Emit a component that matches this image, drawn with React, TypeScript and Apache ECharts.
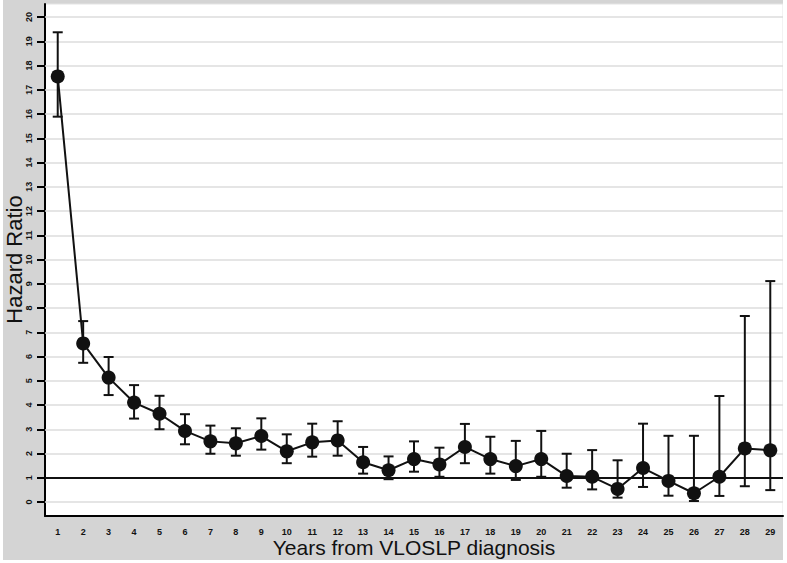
import React, { useEffect, useRef } from "react";
import * as echarts from "echarts";

const years = ["1","2","3","4","5","6","7","8","9","10","11","12","13","14","15","16","17","18","19","20","21","22","23","24","25","26","27","28","29"];
const hazard = [17.55,6.54,5.13,4.10,3.64,2.93,2.50,2.42,2.72,2.09,2.46,2.54,1.64,1.31,1.77,1.55,2.27,1.77,1.48,1.77,1.07,1.04,0.54,1.40,0.87,0.36,1.04,2.21,2.13];
const upper = [19.37,7.46,5.98,4.82,4.38,3.62,3.15,3.04,3.45,2.79,3.23,3.33,2.27,1.88,2.50,2.24,3.22,2.69,2.52,2.93,1.99,2.14,1.72,3.23,2.73,2.73,4.37,7.67,9.11];
const lower = [15.89,5.74,4.41,3.44,3.00,2.38,1.99,1.91,2.16,1.60,1.87,1.91,1.17,0.94,1.25,1.04,1.60,1.17,0.91,1.04,0.59,0.52,0.18,0.62,0.26,0.04,0.25,0.65,0.49];
const yMin = 0;
const yMax = 20;
const yStep = 1;
const referenceValue = 1;

export default function App() {
  const ref = useRef<HTMLDivElement>(null);
  useEffect(() => {
    if (!ref.current) return;
    const chart = echarts.init(ref.current, undefined, { renderer: "svg" });
    const font = "'Liberation Sans', Arial, Helvetica, sans-serif";
    const errData = years.map((_, i) => [i, lower[i], upper[i]]);
    chart.setOption({
      animation: false,
      backgroundColor: "#d4d4d4",
      textStyle: { fontFamily: font },
      graphic: [
        { type: "rect", silent: true, shape: { x: 0, y: 0, width: 3, height: 563 }, style: { fill: "#ffffff" } },
        { type: "rect", silent: true, shape: { x: 783, y: 0, width: 4, height: 563 }, style: { fill: "#ffffff" } },
        { type: "rect", silent: true, shape: { x: 0, y: 560, width: 787, height: 3 }, style: { fill: "#ffffff" } },
      ],
      grid: [
        {
          left: 45, right: 4, top: 17, bottom: 61,
          containLabel: false, outerBoundsMode: "none", show: false, z: 2,
        },
        {
          left: 45, right: 4, top: 4, bottom: 47,
          containLabel: false, outerBoundsMode: "none", z: 0,
          show: true, backgroundColor: "#ffffff", borderColor: "#e4e4e4", borderWidth: 1,
        },
      ],
      xAxis: [
        {
          gridIndex: 0,
          type: "category",
          data: years,
          boundaryGap: true,
          show: false,
        },
        {
          gridIndex: 1,
          type: "category",
          data: years,
          boundaryGap: true,
          name: "Years from VLOSLP diagnosis",
          nameLocation: "middle",
          nameGap: 21,
          nameMoveOverlap: false,
          nameTextStyle: { fontSize: 21, color: "#111", fontFamily: font },
          axisLine: { onZero: false, lineStyle: { color: "#000", width: 2 } },
          axisTick: { alignWithLabel: true, length: 7, lineStyle: { color: "#000", width: 2 } },
          axisLabel: { fontSize: 9, fontWeight: "bold", color: "#111", margin: 11, interval: 0 },
          splitLine: { show: false },
        },
      ],
      yAxis: [
        {
          gridIndex: 0,
          type: "value",
          min: yMin,
          max: yMax,
          interval: yStep,
          z: 2,
          name: "Hazard Ratio",
          nameLocation: "middle",
          nameGap: 20,
          nameMoveOverlap: false,
          nameTextStyle: { fontSize: 22, color: "#111", fontFamily: font },
          axisLine: { show: false },
          axisTick: { show: true, inside: false, length: 8, lineStyle: { color: "#000", width: 2 } },
          axisLabel: {
            rotate: 90, align: "center", verticalAlign: "bottom",
            fontSize: 9, fontWeight: "bold", color: "#111", margin: 12,
          },
          splitLine: { show: true, lineStyle: { color: "#dcdcdc", width: 1.5 } },
        },
        {
          gridIndex: 1,
          type: "value",
          min: 0,
          max: 1,
          axisLine: { show: true, onZero: false, lineStyle: { color: "#000", width: 2 } },
          axisTick: { show: false },
          axisLabel: { show: false },
          splitLine: { show: false },
        },
      ],
      series: [
        {
          type: "custom",
          xAxisIndex: 0,
          yAxisIndex: 0,
          z: 3,
          data: errData,
          renderItem: (params: any, api: any) => {
            const x = api.value(0);
            const lo = api.coord([x, api.value(1)]);
            const hi = api.coord([x, api.value(2)]);
            const hw = 5;
            const st = { stroke: "#111", lineWidth: 2 };
            return {
              type: "group",
              children: [
                { type: "line", shape: { x1: lo[0], y1: lo[1], x2: hi[0], y2: hi[1] }, style: st },
                { type: "line", shape: { x1: hi[0] - hw, y1: hi[1], x2: hi[0] + hw, y2: hi[1] }, style: st },
                { type: "line", shape: { x1: lo[0] - hw, y1: lo[1], x2: lo[0] + hw, y2: lo[1] }, style: st },
              ],
            };
          },
        },
        {
          type: "line",
          xAxisIndex: 0,
          yAxisIndex: 0,
          z: 4,
          data: hazard,
          symbol: "circle",
          symbolSize: 14,
          itemStyle: { color: "#111" },
          lineStyle: { color: "#111", width: 2 },
          markLine: {
            silent: true,
            symbol: "none",
            label: { show: false },
            lineStyle: { color: "#111", width: 2, type: "solid" },
            data: [{ yAxis: referenceValue }],
          },
        },
      ],
    });
    return () => chart.dispose();
  }, []);
  return <div ref={ref} style={{ position: "absolute", left: 0, top: 0, width: 787, height: 563 }} />;
}
